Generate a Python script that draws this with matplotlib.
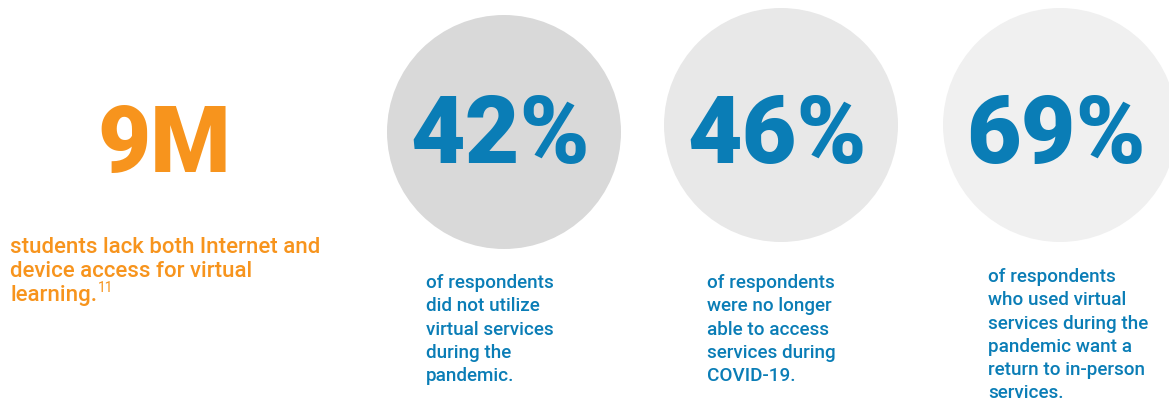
import matplotlib
matplotlib.use('Agg')
import matplotlib.pyplot as plt
from matplotlib.patches import Circle

# stats shown in the three circles
stat_values = ['42%', '46%', '69%']
stat_texts = [
    ["of respondents", "did not utilize", "virtual services", "during the", "pandemic."],
    ["of respondents", "were no longer", "able to access", "services during", "COVID-19."],
    ["of respondents", "who used virtual", "services during the", "pandemic want a",
     "return to in-person", "services."],
]
circle_colors = ['#d9d9d9', '#e8e8e8', '#f0f0f0']

# headline stat on the left
head_value = '9M'
head_lines = ["students lack both Internet and", "device access for virtual", "learning."]
head_note = '11'

BLUE = '#0a7db6'
ORANGE = '#f7941d'

plt.rcParams['font.family'] = ['Roboto', 'DejaVu Sans']

fig = plt.figure(figsize=(11.69, 4.02), dpi=100)
ax = fig.add_axes([0, 0, 1, 1])
ax.set_xlim(0, 1169); ax.set_ylim(402, 0); ax.axis('off')

# layout (pixels)
cx = [504, 781, 1060]
cy = [133, 126, 126]
r = 117
col_x = [426, 707, 988]
col_y = [288, 288, 282]
step = 23.3

for i, (val, lines, fc) in enumerate(zip(stat_values, stat_texts, circle_colors)):
    ax.add_patch(Circle((cx[i], cy[i]), r, facecolor=fc, edgecolor='none'))
    ax.text(cx[i] - 4, 163, val, ha='center', va='baseline', fontsize=68,
            weight='black', color=BLUE)
    for j, line in enumerate(lines):
        ax.text(col_x[i], col_y[i] + j * step, line, ha='left', va='baseline',
                fontsize=13.6, weight='medium', color=BLUE)

ax.text(164, 172, head_value, ha='center', va='baseline', fontsize=66,
        weight='black', color=ORANGE)
t = None
for j, line in enumerate(head_lines):
    t = ax.text(10, 253 + j * 24, line, ha='left', va='baseline', fontsize=16.0,
                weight='medium', color=ORANGE)
ax.annotate(head_note, xy=(1, 0), xycoords=t, xytext=(1, 11), textcoords='offset pixels',
            ha='left', va='bottom', fontsize=10, color=ORANGE)

fig.savefig('out.png', dpi=100)
